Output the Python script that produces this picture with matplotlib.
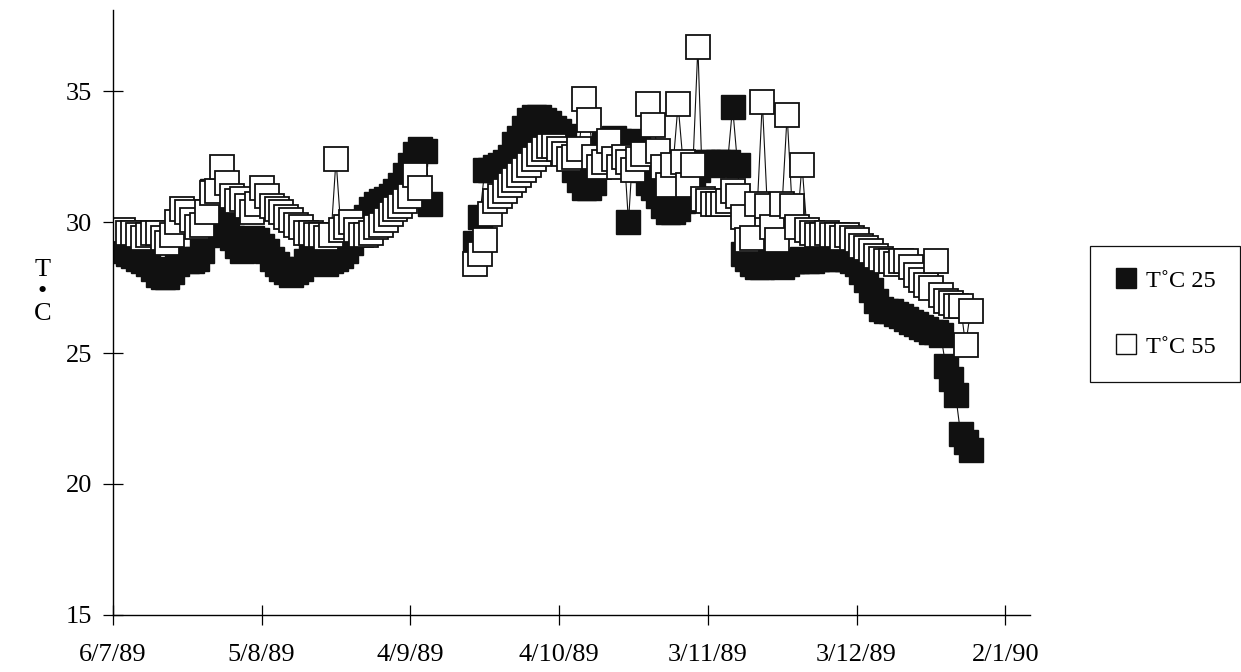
import pandas as pd
import matplotlib
matplotlib.use("Agg")
import matplotlib.pyplot as plt
from matplotlib.lines import Line2D

plt.rcParams["font.family"] = ["Liberation Serif", "DejaVu Serif"]

# daily readings, two recording periods with a gap in September
seg1_t25_start = "1989-07-08"
seg1_t25 = [28.9, 28.8, 28.7, 28.6, 28.5, 28.4, 28.2, 28.0, 27.9, 27.9,
            28.1, 28.4, 28.6, 28.5, 28.5, 28.6, 28.9, 29.5, 31.2, 30.7,
            30.2, 29.8, 29.4, 29.1, 28.9, 29.1, 29.4, 29.3, 29.1, 28.9,
            28.6, 28.4, 28.2, 28.1, 28.0, 28.1, 28.2, 28.5, 28.8, 28.9,
            28.5, 28.4, 28.5, 28.6, 28.7, 28.9, 29.2, 29.6, 29.8, 30.2,
            30.5, 30.7, 30.8, 30.9, 31.0, 31.2, 31.4, 31.8, 32.2, 32.6,
            32.8, 32.7, 30.7]

seg1_t55_start = "1989-07-08"
seg1_t55 = [29.7, 29.6, 29.6, 29.5, 29.4, 29.5, 29.6, 29.6, 29.4, 29.2,
            29.5, 30.0, 30.5, 30.4, 30.1, 29.8, 29.9, 30.4, 31.1, 31.2,
            32.1, 31.5, 31.0, 30.8, 30.9, 30.6, 30.4, 30.7, 31.3, 31.0,
            30.6, 30.5, 30.4, 30.2, 30.1, 29.9, 29.8, 29.6, 29.6, 29.5,
            29.5, 29.4, 29.5, 32.4, 29.7, 29.8, 30.0, 29.7, 29.5, 29.5,
            29.6, 29.8, 29.9, 30.1, 30.3, 30.5, 30.6, 30.8, 31.0, 31.8,
            31.3]

seg2_start = "1989-09-17"
seg2_t25 = [29.2, 30.2, 32.0, 32.0, 32.1, 32.2, 32.3, 32.5, 33.0, 33.2,
            33.6, 33.9, 34.0, 34.0, 33.9, 33.8, 33.6, 33.5, 33.3, 32.6,
            32.0, 31.6, 31.3, 31.3, 31.5, 32.2, 33.0, 33.1, 33.2, 33.1,
            33.0, 30.0, 33.1, 32.8, 32.0, 31.5, 31.3, 31.0, 30.6, 30.4,
            30.4, 30.5, 30.8, 31.2, 31.6, 32.0, 32.3, 32.3, 32.2, 32.3,
            32.3, 32.3, 34.4, 32.2, 28.8, 28.6, 28.4, 28.3, 28.3, 28.4,
            28.5, 28.4, 28.3, 28.4, 28.5, 28.5, 28.6, 28.5, 28.5, 28.6,
            28.7, 28.7, 28.6, 28.6, 28.7, 28.6, 28.5, 28.4, 28.1, 27.8,
            27.4, 27.0, 26.7, 26.6, 26.6, 26.5, 26.4, 26.3, 26.2, 26.1,
            26.0, 25.9, 25.8, 25.8, 25.7, 24.5, 24.0, 23.4, 21.9, 21.6,
            21.3]

seg2_t55 = [28.4, 28.8, 29.3, 30.3, 30.8, 31.0, 31.2, 31.4, 31.6, 31.8,
            32.0, 32.2, 32.4, 32.6, 32.8, 32.9, 32.9, 32.8, 32.6, 32.4,
            32.5, 32.8, 34.7, 33.9, 32.5, 32.1, 32.3, 33.1, 32.4, 32.1,
            32.5, 32.3, 32.0, 32.4, 32.6, 34.5, 33.7, 32.7, 32.1, 31.4,
            32.2, 34.5, 32.3, 31.4, 32.2, 36.7, 30.9, 30.8, 30.7, 30.7,
            30.7, 30.8, 31.2, 31.0, 30.2, 29.3, 29.4, 30.7, 34.6, 30.6,
            29.8, 29.3, 30.7, 34.1, 30.6, 29.8, 32.2, 29.7, 29.6, 29.5,
            29.5, 29.6, 29.5, 29.5, 29.4, 29.5, 29.4, 29.3, 29.1, 29.0,
            28.9, 28.7, 28.6, 28.5, 28.5, 28.4, 28.5, 28.5, 28.3, 28.0,
            27.8, 27.6, 27.5, 28.5, 27.2, 27.0, 26.9, 26.8, 26.8, 25.3,
            26.6]

tick_dates = ["1989-07-06", "1989-08-05", "1989-09-04", "1989-10-04",
              "1989-11-03", "1989-12-03", "1990-01-02"]
tick_labels = ["6/7/89", "5/8/89", "4/9/89", "4/10/89", "3/11/89", "3/12/89", "2/1/90"]
y_ticks = [15, 20, 25, 30, 35]


def days(start, vals):
    return pd.date_range(start, periods=len(vals), freq="D")


fig = plt.figure(figsize=(12.41, 6.72), dpi=100)
ax = fig.add_axes([0.091, 0.085, 0.739, 0.9])

black = dict(marker="s", markersize=17.5, markerfacecolor="#111111",
             markeredgecolor="#111111", markeredgewidth=1.0,
             color="#111111", lw=0.8)
white = dict(marker="s", markersize=17.5, markerfacecolor="white",
             markeredgecolor="#111111", markeredgewidth=1.3,
             color="#111111", lw=0.8)

ax.plot(days(seg1_t25_start, seg1_t25), seg1_t25, **black)
ax.plot(days(seg2_start, seg2_t25), seg2_t25, **black)
ax.plot(days(seg1_t55_start, seg1_t55), seg1_t55, **white)
ax.plot(days(seg2_start, seg2_t55), seg2_t55, **white)

ax.set_xlim(pd.Timestamp("1989-07-06"), pd.Timestamp("1990-01-07"))
ax.set_ylim(15, 38.1)
ax.set_xticks(pd.to_datetime(tick_dates))
ax.set_xticklabels(tick_labels, fontsize=19)
ax.set_yticks(y_ticks)
ax.set_yticklabels([str(v) for v in y_ticks], fontsize=19)
ax.tick_params(direction="inout", length=14, width=0.9, pad=8)
ax.tick_params(axis="x", pad=14)

for s in ["top", "right"]:
    ax.spines[s].set_visible(False)
for s in ["left", "bottom"]:
    ax.spines[s].set_linewidth(1.0)

fig.text(0.034, 0.565, "T\n•\nC", ha="center", va="center",
         fontsize=19, linespacing=1.0)

handles = [
    Line2D([], [], ls="none", marker="s", markersize=14, markerfacecolor="#111111",
           markeredgecolor="#111111"),
    Line2D([], [], ls="none", marker="s", markersize=14, markerfacecolor="white",
           markeredgecolor="#111111"),
]
leg = fig.legend(handles, ["T˚C 25", "T˚C 55"], loc="center left",
                 bbox_to_anchor=(0.878, 0.533), fontsize=17.5, frameon=True,
                 fancybox=False, edgecolor="#111111", framealpha=1,
                 handletextpad=0.3, labelspacing=1.8, borderpad=1.0,
                 handlelength=1.0, borderaxespad=0)
leg.get_frame().set_linewidth(0.9)

fig.savefig("out.png", dpi=100)
